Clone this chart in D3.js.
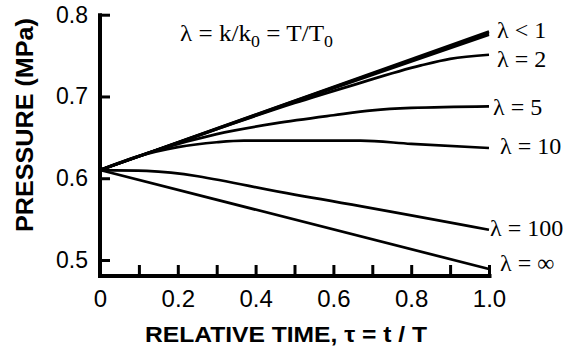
<!DOCTYPE html>
<html>
<head>
<meta charset="utf-8">
<script src="https://cdn.jsdelivr.net/npm/d3@7"></script>
<style>
  body { margin: 0; background: #fff; }
  svg { display: block; }
</style>
</head>
<body>
<svg id="chart" width="578" height="349"></svg>
<script>
// ---- data ----
const seriesNames = ["λ < 1 (a)", "λ < 1 (b)", "λ < 1 (c)", "λ = 2", "λ = 5", "λ = 10", "λ = 100", "λ = ∞"];
const tau_lt1a = [0, 1.0];
const p_lt1a   = [0.61, 0.7795];
const tau_lt1b = [0, 0.5, 1.0];
const p_lt1b   = [0.61, 0.6945, 0.7775];
const tau_lt1c = [0, 0.5, 1.0];
const p_lt1c   = [0.61, 0.6935, 0.7755];
const tau_2    = [0, 0.3, 0.5, 0.644, 0.825, 0.9, 1.0];
const p_2      = [0.61, 0.660, 0.692, 0.713, 0.738, 0.746, 0.751];
const tau_5    = [0, 0.15, 0.3, 0.45, 0.6, 0.7, 0.8, 1.0];
const p_5      = [0.61, 0.635, 0.654, 0.667, 0.677, 0.683, 0.686, 0.688];
const tau_10   = [0, 0.1, 0.2, 0.3, 0.37, 0.67, 0.8, 1.0];
const p_10     = [0.61, 0.627, 0.638, 0.644, 0.646, 0.646, 0.642, 0.637];
const tau_100  = [0, 0.12, 0.5, 1.0];
const p_100    = [0.61, 0.609, 0.580, 0.537];
const tau_inf  = [0, 1.0];
const p_inf    = [0.61, 0.489];

const xTicks = [0, 0.1, 0.2, 0.3, 0.4, 0.5, 0.6, 0.7, 0.8, 0.9, 1.0];
const xTickLabels = ["0", "", "0.2", "", "0.4", "", "0.6", "", "0.8", "", "1.0"];
const yTicks = [0.5, 0.6, 0.7, 0.8];
const yTickLabels = ["0.5", "0.6", "0.7", "0.8"];

const labelTexts = ["λ < 1", "λ = 2", "λ = 5", "λ = 10", "λ = 100", "λ = ∞"];

// ---- layout ----
const svg = d3.select("#chart");
const x = d3.scaleLinear().domain([0, 1]).range([100, 489]);
const y = d3.scaleLinear().domain([0.5, 0.8]).range([260, 14.7]);
const axisY = 276;

const sans = "'Liberation Sans', Arial, sans-serif";
const serif = "'Liberation Serif', 'Times New Roman', serif";

// curves
const series = [
  [tau_lt1a, p_lt1a], [tau_lt1b, p_lt1b], [tau_lt1c, p_lt1c], [tau_2, p_2], [tau_5, p_5],
  [tau_10, p_10], [tau_100, p_100], [tau_inf, p_inf]
];
const line = d3.line().x(d => x(d[0])).y(d => y(d[1])).curve(d3.curveMonotoneX);
svg.append("g").selectAll("path").data(series).join("path")
  .attr("d", s => line(s[0].map((t, i) => [t, s[1][i]])))
  .attr("fill", "none").attr("stroke", "#000").attr("stroke-width", 2.7)
  .attr("stroke-linejoin", "round");

// y axis
const yAxis = d3.axisLeft(y).tickValues(yTicks)
  .tickFormat((d, i) => yTickLabels[i]).tickSize(-10).tickSizeOuter(0).tickPadding(12);
const gy = svg.append("g").attr("transform", `translate(${x(0)},0)`).call(yAxis);
gy.select(".domain").remove();
gy.selectAll(".tick line").attr("stroke", "#000").attr("stroke-width", 3);
gy.selectAll(".tick text").attr("font-family", sans).attr("font-size", 23).attr("fill", "#000");

// x axis
const xAxis = d3.axisBottom(x).tickValues(xTicks)
  .tickFormat((d, i) => xTickLabels[i]).tickSize(-11).tickSizeOuter(0).tickPadding(14);
const gx = svg.append("g").attr("transform", `translate(0,${axisY})`).call(xAxis);
gx.select(".domain").remove();
gx.selectAll(".tick line").attr("stroke", "#000").attr("stroke-width", 3);
gx.selectAll(".tick text").attr("font-family", sans).attr("font-size", 24).attr("fill", "#000");

// axis lines
svg.append("line").attr("x1", x(0)).attr("x2", x(0)).attr("y1", y(0.8) - 1.5).attr("y2", axisY + 2)
  .attr("stroke", "#000").attr("stroke-width", 4);
svg.append("line").attr("x1", x(0) - 2).attr("x2", x(1) + 2.5).attr("y1", axisY).attr("y2", axisY)
  .attr("stroke", "#000").attr("stroke-width", 4);

// axis titles
svg.append("text").attr("x", 286).attr("y", 342).attr("text-anchor", "middle")
  .attr("font-family", sans).attr("font-weight", "bold").attr("font-size", 22)
  .attr("textLength", 282).attr("lengthAdjust", "spacingAndGlyphs")
  .text("RELATIVE TIME, τ = t / T");
svg.append("text").attr("transform", "translate(33,125) rotate(-90)").attr("text-anchor", "middle")
  .attr("font-family", sans).attr("font-weight", "bold").attr("font-size", 24)
  .attr("textLength", 214).attr("lengthAdjust", "spacingAndGlyphs")
  .text("PRESSURE (MPa)");

// annotation
const ann = svg.append("text").attr("x", 180).attr("y", 41)
  .attr("font-family", serif).attr("font-size", 24)
  .attr("textLength", 153).attr("lengthAdjust", "spacingAndGlyphs");
ann.append("tspan").text("λ = k/k");
ann.append("tspan").attr("dy", 6).attr("font-size", 17).text("0");
ann.append("tspan").attr("dy", -6).text(" = T/T");
ann.append("tspan").attr("dy", 6).attr("font-size", 17).text("0");

// curve labels
const labelX = [497, 497, 493, 500, 490, 500];
const labelBase = [38, 67, 115, 154, 236, 271];
svg.append("g").selectAll("text").data(labelTexts).join("text")
  .attr("x", (d, i) => labelX[i]).attr("y", (d, i) => labelBase[i])
  .attr("font-family", serif).attr("font-size", 24).text(d => d);
</script>
</body>
</html>
